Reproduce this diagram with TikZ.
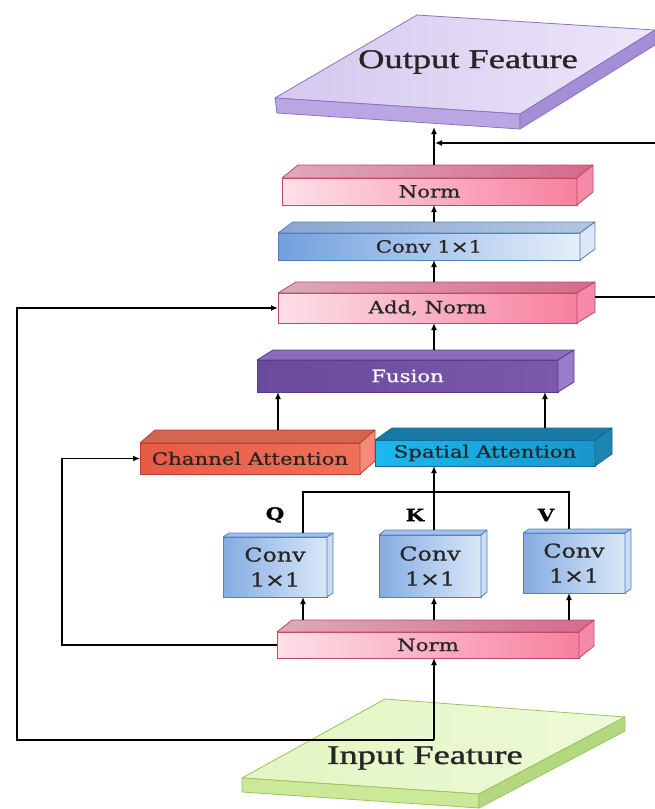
\documentclass[tikz,border=0pt]{standalone}
\usepackage{fontspec}
\setmainfont{Liberation Serif}
\newfontfamily\titlefont[FakeStretch=1.35,FakeBold=1.2]{Liberation Serif}
\newfontfamily\boxfont[FakeStretch=1.25,FakeBold=0.8]{DejaVu Serif}
\usetikzlibrary{arrows.meta,calc}
\definecolor{pinkL}{HTML}{FDE0E8}\definecolor{pinkR}{HTML}{F7809F}
\definecolor{pinkTL}{HTML}{DCAAB8}\definecolor{pinkTR}{HTML}{D46A8C}
\definecolor{pinkS}{HTML}{F58AA8}\definecolor{pinkB}{HTML}{C24A5C}
\definecolor{blueL}{HTML}{72A0DE}\definecolor{blueR}{HTML}{E6EFFA}
\definecolor{blueTL}{HTML}{8AA6D0}\definecolor{blueTR}{HTML}{B4C6E0}
\definecolor{blueS}{HTML}{DCE8F8}\definecolor{blueB}{HTML}{4F7FC0}
\definecolor{cvL}{HTML}{84ACE2}\definecolor{cvR}{HTML}{DBE7F8}
\definecolor{cvT}{HTML}{A4C0E8}\definecolor{cvS}{HTML}{C8DCF4}
\definecolor{fuL}{HTML}{6A4A9C}\definecolor{fuR}{HTML}{7B58AC}
\definecolor{fuT}{HTML}{8C6CBC}\definecolor{fuS}{HTML}{9A7CCB}\definecolor{fuB}{HTML}{5A3A88}
\definecolor{chL}{HTML}{E85A44}\definecolor{chR}{HTML}{F07058}
\definecolor{chT}{HTML}{D46650}\definecolor{chS}{HTML}{F58A78}\definecolor{chB}{HTML}{B84030}
\definecolor{spL}{HTML}{1CB8F0}\definecolor{spR}{HTML}{1896CC}
\definecolor{spT}{HTML}{1A7AA6}\definecolor{spS}{HTML}{1E84B0}\definecolor{spB}{HTML}{106A98}
\definecolor{ouTL}{HTML}{D4C8EE}\definecolor{ouTR}{HTML}{ECE6FA}
\definecolor{ouF}{HTML}{BBA6E4}\definecolor{ouS}{HTML}{A48ED8}\definecolor{ouB}{HTML}{8A74C0}
\definecolor{inTL}{HTML}{E2F5C2}\definecolor{inTR}{HTML}{EEFAD8}
\definecolor{inF}{HTML}{CCE99A}\definecolor{inS}{HTML}{B4D880}\definecolor{inB}{HTML}{9CC45C}
\tikzset{
  arr/.style={line width=1.7pt,-{Latex[length=7pt,width=6pt]}},
  ln/.style={line width=1.7pt},
  front/.style={rectangle,outer sep=0pt,inner sep=0pt,line width=0.8pt,align=center,
    font=\boxfont\fontsize{17}{20}\selectfont,text=black!85},
  pinkfront/.style={left color=pinkL,right color=pinkR,draw=pinkB},
  pinktop/.style={left color=pinkTL,right color=pinkTR,draw=pinkB},
  pinkside/.style={fill=pinkS,draw=pinkB},
  bluefront/.style={left color=blueL,right color=blueR,draw=blueB},
  bluetop/.style={left color=blueTL,right color=blueTR,draw=blueB},
  blueside/.style={fill=blueS,draw=blueB},
  cvfront/.style={left color=cvL,right color=cvR,draw=blueB},
  cvtop/.style={fill=cvT,draw=blueB},
  cvside/.style={fill=cvS,draw=blueB},
  fufront/.style={left color=fuL,right color=fuR,draw=fuB},
  futop/.style={fill=fuT,draw=fuB},
  fuside/.style={fill=fuS,draw=fuB},
  chfront/.style={left color=chL,right color=chR,draw=chB},
  chtop/.style={fill=chT,draw=chB},
  chside/.style={fill=chS,draw=chB},
  spfront/.style={left color=spL,right color=spR,draw=spB},
  sptop/.style={fill=spT,draw=spB},
  spside/.style={fill=spS,draw=spB},
  title/.style={font=\titlefont\fontsize{27}{30}\selectfont,inner sep=0pt,text=black!85},
  qkv/.style={font=\boxfont\bfseries\fontsize{17}{18}\selectfont,inner sep=0pt},
}
% #1 name, #2 centre, #3 width, #4 height, #5 depth dx, #6 depth dy (up), #7 colour set, #8 extra options, #9 text
\newcommand\tdbox[9]{%
  \node[front,#7front,minimum width=#3pt,minimum height=#4pt,#8] (#1) at (#2) {#9};
  \path[#7top,line width=0.8pt,line join=round] (#1.north west) -- ++(#5,-#6) -- ++(#3,0) -- (#1.north east) -- cycle;
  \path[#7side,line width=0.8pt,line join=round] (#1.north east) -- ++(#5,-#6) -- ++(0,#4) -- (#1.south east) -- cycle;
  \coordinate (#1-top) at ($(#1.north)+(#5/2,-#6)$);
  \coordinate (#1-bk) at ($(#1.east)+(#5,-#6)$);
}
\begin{document}
\begin{tikzpicture}[x=1pt,y=-1pt]
\useasboundingbox (0,0) rectangle (655,809);
% output slab
\path[left color=ouTL,right color=ouTR,draw=ouB,line width=0.8pt,line join=round] (417,15) -- (655,30) -- (520,114) -- (275,98) -- cycle;
\path[fill=ouF,draw=ouB,line width=0.8pt,line join=round] (275,98) -- (520,114) -- (520,129) -- (277,113) -- cycle;
\path[fill=ouS,draw=ouB,line width=0.8pt,line join=round] (655,30) -- (655,45) -- (520,129) -- (520,114) -- cycle;
\node[title] (outT) at (468,62) {Output Feature};
\coordinate (outbot) at (434,127);
% input slab
\path[left color=inTL,right color=inTR,draw=inB,line width=0.8pt,line join=round] (385,699) -- (625,717) -- (479,794) -- (242,778) -- cycle;
\path[fill=inF,draw=inB,line width=0.8pt,line join=round] (242,778) -- (479,794) -- (479,808) -- (242,792) -- cycle;
\path[fill=inS,draw=inB,line width=0.8pt,line join=round] (625,717) -- (625,731) -- (479,808) -- (479,794) -- cycle;
\node[title] (inT) at (425,758) {Input Feature};
\coordinate (inpt) at (434,740);
% boxes
\tdbox{norm1}{429.5,191.5}{295}{27}{16}{13}{pink}{}{Norm}
\tdbox{conv}{429,246.5}{302}{27}{15}{11}{blue}{}{Conv 1×1}
\tdbox{addn}{427.5,308}{299}{30}{18}{11}{pink}{}{Add, Norm}
\tdbox{fus}{407.5,376}{301}{32}{16}{10}{fu}{text=white}{Fusion}
\tdbox{chan}{250,458.5}{220}{31}{15}{13}{ch}{}{Channel Attention}
\tdbox{spat}{485,453}{220}{26}{17}{12}{sp}{}{Spatial Attention}
\tdbox{cq}{275,567}{104}{60}{6}{4}{cv}{font=\boxfont\fontsize{19}{25}\selectfont}{Conv\\1×1}
\tdbox{ck}{430,566}{102}{62}{6}{5}{cv}{font=\boxfont\fontsize{19}{25}\selectfont}{Conv\\1×1}
\tdbox{cv}{574,563}{102}{60}{6}{4}{cv}{font=\boxfont\fontsize{19}{25}\selectfont}{Conv\\1×1}
\tdbox{norm2}{428,645}{302}{26}{15}{12}{pink}{}{Norm}
% labels
\node[qkv] (lq) at (275,515) {Q};
\node[qkv] (lk) at (415,515) {K};
\node[qkv] (lv) at (546,515) {V};
% column coordinates
\coordinate (mx) at (434,0);
\coordinate (qx) at (303,0);
\coordinate (vx) at (569,0);
\coordinate (cx) at (278,0);
\coordinate (sx) at (545,0);
\coordinate (bar) at (0,492);
\coordinate (lft) at (17,0);
\coordinate (lft2) at (62,0);
\coordinate (redge) at (655,0);
\coordinate (rB) at (655,143);
% connectors
\draw[arr] (inpt) -- (norm2.south -| mx);
\draw[arr] (inpt) -- (inpt -| lft) |- (addn.west);
\draw[arr] (norm2.west) -- (norm2.west -| lft2) |- (chan.west);
\draw[arr] (norm2-top -| qx) -- (cq.south -| qx);
\draw[arr] (norm2-top -| mx) -- (ck.south -| mx);
\draw[arr] (norm2-top -| vx) -- (cv.south -| vx);
\draw[ln] (cq-top -| qx) -- (bar -| qx) -- (bar -| vx) -- (cv-top -| vx);
\draw[arr] (ck-top -| mx) -- (spat.south -| mx);
\draw[arr] (chan-top -| cx) -- (fus.south -| cx);
\draw[arr] (spat-top -| sx) -- (fus.south -| sx);
\draw[arr] (fus-top -| mx) -- (addn.south -| mx);
\draw[arr] (addn-top -| mx) -- (conv.south -| mx);
\draw[arr] (conv-top -| mx) -- (norm1.south -| mx);
\draw[arr] (norm1-top -| mx) -- (outbot);
\draw[ln] (addn-bk) -- (addn-bk -| redge);
\draw[arr] (rB) -- ([xshift=1pt]rB -| mx);
\end{tikzpicture}
\end{document}
